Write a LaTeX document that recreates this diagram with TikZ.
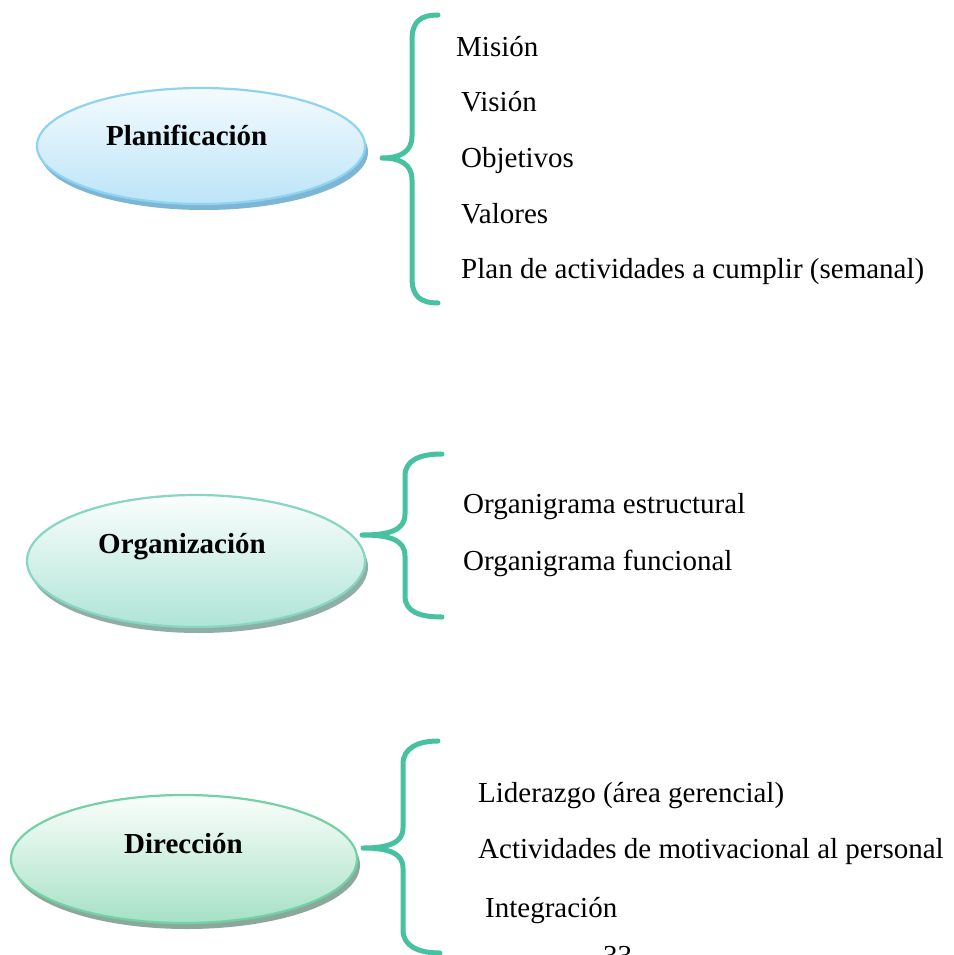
\documentclass[tikz,border=0pt]{standalone}
\usepackage{fontspec}
\setmainfont{Liberation Serif}
\usetikzlibrary{shapes.geometric,shadows}
\definecolor{bracecol}{HTML}{48C1A0}
\definecolor{blueedge}{HTML}{8ED3F0}
\definecolor{bluetop}{HTML}{F4FBFE}
\definecolor{bluebot}{HTML}{BCE4F8}
\definecolor{blueshadow}{HTML}{7DB6D4}
\definecolor{tealedge}{HTML}{86D6C3}
\definecolor{tealtop}{HTML}{FBFEFD}
\definecolor{tealbot}{HTML}{AFE4D6}
\definecolor{tealshadow}{HTML}{8FAEA5}
\definecolor{greenedge}{HTML}{72D2A6}
\definecolor{greentop}{HTML}{FBFEFC}
\definecolor{greenbot}{HTML}{A6E1C6}
\definecolor{greenshadow}{HTML}{8CA89B}
\tikzset{
  topic/.style={ellipse, inner sep=0pt, line width=2.2pt},
  topiclabel/.style={anchor=base west, inner sep=0pt, font=\fontsize{29}{35}\selectfont\bfseries},
  item/.style={anchor=base west, inner sep=0pt, font=\fontsize{29}{35}\selectfont},
  bracket/.style={draw=bracecol, line width=5pt, line cap=round, line join=round},
}
\begin{document}
\begin{tikzpicture}[x=1pt, y=-1pt]
\useasboundingbox[fill=white] (0,0) rectangle (953,955);

% --- Planificación ---
\node[topic, minimum width=328pt, minimum height=116pt, draw=blueedge,
      top color=bluetop, bottom color=bluebot,
      drop shadow={shadow xshift=3pt, shadow yshift=-6pt, fill=blueshadow, opacity=1}]
  (plan) at (201,146) {};
\node[topiclabel] (planlbl) at (106,145) {Planificación};
\coordinate (planA) at (438,15);
\coordinate (planB) at (438,303);
\draw[bracket] (planA) .. controls (420,15) and (412,22) .. (412,40) -- (412,136)
  .. controls (412,152) and (400,158) .. (382,158)
  .. controls (400,158) and (412,164) .. (412,180) -- (412,278)
  .. controls (412,296) and (420,303) .. (planB);
\node[item] (mision) at (456,57) {Misión};
\node[item] (vision) at (461,112) {Visión};
\node[item] (objetivos) at (461,167) {Objetivos};
\node[item] (valores) at (461,223) {Valores};
\node[item] (planact) at (461,278) {Plan de actividades a cumplir (semanal)};

% --- Organización ---
\node[topic, minimum width=338pt, minimum height=132pt, draw=tealedge,
      top color=tealtop, bottom color=tealbot,
      drop shadow={shadow xshift=3pt, shadow yshift=-6pt, fill=tealshadow, opacity=1}]
  (org) at (196,561) {};
\node[topiclabel] (orglbl) at (98,553) {Organización};
\coordinate (orgA) at (442,454);
\coordinate (orgB) at (442,617);
\draw[bracket] (orgA) .. controls (420,454) and (405,460) .. (405,476) -- (405,514)
  .. controls (405,530) and (390,535) .. (362,535)
  .. controls (390,535) and (405,540) .. (405,556) -- (405,596)
  .. controls (405,612) and (420,617) .. (orgB);
\node[item] (estructural) at (463,513) {Organigrama estructural};
\node[item] (funcional) at (463,570) {Organigrama funcional};

% --- Dirección ---
\node[topic, minimum width=346pt, minimum height=128pt, draw=greenedge,
      top color=greentop, bottom color=greenbot,
      drop shadow={shadow xshift=3pt, shadow yshift=-6pt, fill=greenshadow, opacity=1}]
  (dir) at (184,859) {};
\node[topiclabel] (dirlbl) at (124,853) {Dirección};
\coordinate (dirA) at (438,741);
\coordinate (dirB) at (440,953);
\draw[bracket] (dirA) .. controls (418,741) and (403,748) .. (403,764) -- (403,828)
  .. controls (403,843) and (388,848) .. (363,848)
  .. controls (388,848) and (403,853) .. (403,868) -- (403,930)
  .. controls (403,946) and (418,953) .. (dirB);
\node[item] (liderazgo) at (478,802) {Liderazgo (área gerencial)};
\node[item] (motivacion) at (478,858) {Actividades de motivacional al personal};
\node[item] (integracion) at (485,917) {Integración};

% page number, cut by the lower edge
\node[item] (pagenum) at (603,965) {33};
\end{tikzpicture}
\end{document}
